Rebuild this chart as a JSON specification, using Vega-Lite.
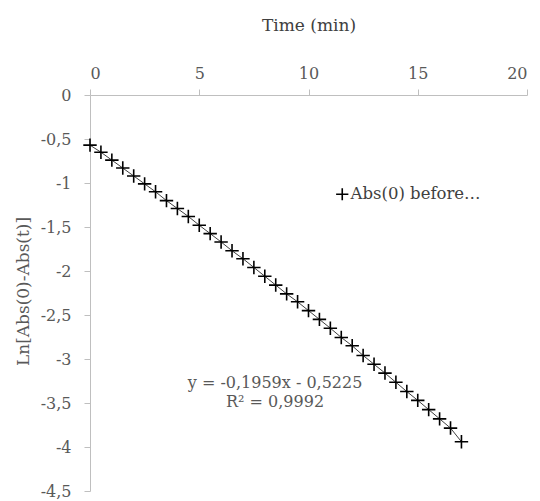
{
  "$schema": "https://vega.github.io/schema/vega-lite/v6.json",
  "autosize": "none",
  "width": 437,
  "height": 396,
  "padding": {"left": 90, "top": 95, "right": 13, "bottom": 10},
  "background": "white",
  "config": {
    "view": {"stroke": null},
    "font": "DejaVu Serif",
    "axis": {
      "labelFont": "DejaVu Serif",
      "titleFont": "DejaVu Serif",
      "labelFontSize": 16,
      "titleFontSize": 17,
      "titleFontWeight": "normal",
      "labelColor": "#595959",
      "titleColor": "#595959",
      "domainColor": "#bfbfbf",
      "tickColor": "#bfbfbf",
      "grid": false
    }
  },
  "datasets": {
    "pts": [
      {"t": 0, "v": -0.57, "series": "Abs(0) before…"},
      {"t": 0.5, "v": -0.65, "series": "Abs(0) before…"},
      {"t": 1, "v": -0.74, "series": "Abs(0) before…"},
      {"t": 1.5, "v": -0.83, "series": "Abs(0) before…"},
      {"t": 2, "v": -0.92, "series": "Abs(0) before…"},
      {"t": 2.5, "v": -1.01, "series": "Abs(0) before…"},
      {"t": 3, "v": -1.10, "series": "Abs(0) before…"},
      {"t": 3.5, "v": -1.20, "series": "Abs(0) before…"},
      {"t": 4, "v": -1.29, "series": "Abs(0) before…"},
      {"t": 4.5, "v": -1.38, "series": "Abs(0) before…"},
      {"t": 5, "v": -1.48, "series": "Abs(0) before…"},
      {"t": 5.5, "v": -1.575, "series": "Abs(0) before…"},
      {"t": 6, "v": -1.67, "series": "Abs(0) before…"},
      {"t": 6.5, "v": -1.77, "series": "Abs(0) before…"},
      {"t": 7, "v": -1.86, "series": "Abs(0) before…"},
      {"t": 7.5, "v": -1.96, "series": "Abs(0) before…"},
      {"t": 8, "v": -2.06, "series": "Abs(0) before…"},
      {"t": 8.5, "v": -2.16, "series": "Abs(0) before…"},
      {"t": 9, "v": -2.26, "series": "Abs(0) before…"},
      {"t": 9.5, "v": -2.35, "series": "Abs(0) before…"},
      {"t": 10, "v": -2.45, "series": "Abs(0) before…"},
      {"t": 10.5, "v": -2.55, "series": "Abs(0) before…"},
      {"t": 11, "v": -2.65, "series": "Abs(0) before…"},
      {"t": 11.5, "v": -2.755, "series": "Abs(0) before…"},
      {"t": 12, "v": -2.85, "series": "Abs(0) before…"},
      {"t": 12.5, "v": -2.96, "series": "Abs(0) before…"},
      {"t": 13, "v": -3.06, "series": "Abs(0) before…"},
      {"t": 13.5, "v": -3.16, "series": "Abs(0) before…"},
      {"t": 14, "v": -3.265, "series": "Abs(0) before…"},
      {"t": 14.5, "v": -3.37, "series": "Abs(0) before…"},
      {"t": 15, "v": -3.47, "series": "Abs(0) before…"},
      {"t": 15.5, "v": -3.575, "series": "Abs(0) before…"},
      {"t": 16, "v": -3.68, "series": "Abs(0) before…"},
      {"t": 16.5, "v": -3.785, "series": "Abs(0) before…"},
      {"t": 17, "v": -3.94, "series": "Abs(0) before…"}
    ],
    "eq": [
      {"t": 8.47, "v": -3.27, "label": "y = -0,1959x - 0,5225"},
      {"t": 8.47, "v": -3.49, "label": "R² = 0,9992"}
    ]
  },
  "layer": [
    {
      "data": {"name": "pts"},
      "mark": {"type": "line", "color": "#404040", "strokeWidth": 1},
      "encoding": {
        "x": {
          "field": "t", "type": "quantitative",
          "scale": {"domain": [0, 20], "nice": false},
          "axis": {
            "orient": "top", "title": "Time  (min)",
            "values": [0, 5, 10, 15, 20],
            "tickSize": 6, "labelPadding": 8,
            "titleY": -70, "titleBaseline": "middle", "titleColor": "#404040"
          }
        },
        "y": {
          "field": "v", "type": "quantitative",
          "scale": {"domain": [-4.5, 0], "nice": false},
          "axis": {
            "title": "Ln[Abs(0)-Abs(t)]",
            "values": [0, -0.5, -1, -1.5, -2, -2.5, -3, -3.5, -4, -4.5],
            "labelExpr": "datum.value == 0 ? '0' : '-' + replace(toString(abs(datum.value)), '.', ',')",
            "tickSize": 6, "labelPadding": 13,
            "titleX": -67, "titleY": 196, "titleAlign": "center", "titleBaseline": "middle", "titleAngle": -90
          }
        }
      }
    },
    {
      "data": {"name": "pts"},
      "mark": {"type": "point", "filled": false, "strokeWidth": 1.6, "size": 180, "opacity": 1, "color": "black"},
      "encoding": {
        "x": {"field": "t", "type": "quantitative"},
        "y": {"field": "v", "type": "quantitative"},
        "shape": {
          "field": "series", "type": "nominal",
          "scale": {"range": ["M-1,0H1M0,-1V1"]},
          "legend": {
            "title": null,
            "orient": "none", "legendX": 244, "legendY": 91,
            "symbolSize": 150, "symbolStrokeColor": "black", "symbolStrokeWidth": 1.6,
            "symbolFillColor": "transparent",
            "labelFont": "DejaVu Serif", "labelFontSize": 16.5, "labelColor": "#404040",
            "labelOffset": 0, "labelLimit": 300
          }
        }
      }
    },
    {
      "data": {"name": "eq"},
      "mark": {"type": "text", "font": "DejaVu Serif", "fontSize": 16, "color": "#595959", "align": "center", "baseline": "middle"},
      "encoding": {
        "x": {"field": "t", "type": "quantitative"},
        "y": {"field": "v", "type": "quantitative"},
        "text": {"field": "label", "type": "nominal"}
      }
    }
  ]
}
